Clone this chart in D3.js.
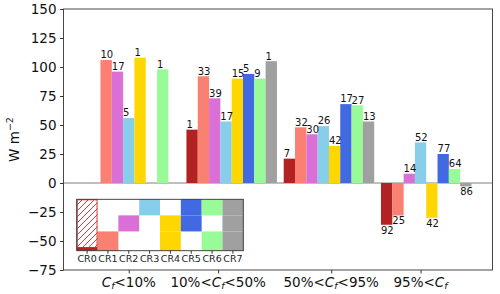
<!DOCTYPE html>
<html>
<head>
<meta charset="utf-8">
<script src="https://cdn.jsdelivr.net/npm/d3@7"></script>
<style>
  body { margin: 0; background: #fff; }
  text { font-family: "DejaVu Sans", sans-serif; }
</style>
</head>
<body>
<svg id="chart"></svg>
<script>
// cloud regimes and their colours
const regimes = ["CR0", "CR1", "CR2", "CR3", "CR4", "CR5", "CR6", "CR7"];
const colors = ["#b22222", "#fa8072", "#da70d6", "#87ceeb", "#ffd700", "#4169e1", "#98fb98", "#a0a0a0"];

// group labels: text before and after the italic C_f
const groupLabels = [["", "<10%"], ["10%<", "<50%"], ["50%<", "<95%"], ["95%<", ""]];
// tick positions in bar-width units
const tickPositions = [3.5, 11.4, 21.4, 29.3];

// values per cloud-fraction group (W m-2), null = no bar
const lt10 = [null, 106, 96, 56, 108, null, 98, null];
const lt10Counts = [null, 10, 17, 5, 1, null, 1, null];
const from10to50 = [46, 92, 73, 53, 90, 94, 90, 105];
const from10to50Counts = [1, 33, 39, 17, 15, 5, 9, 1];
const from50to95 = [21, 48, 42, 49, 32, 68, 67, 53];
const from50to95Counts = [7, 32, 30, 26, 42, 17, 27, 13];
const gt95 = [-36, -28, 8, 35, -30, 25, 12, -3];
const gt95Counts = [92, 25, 14, 52, 42, 77, 64, 86];

const yTicks = [-75, -50, -25, 0, 25, 50, 75, 100, 125, 150];

// inset: which layer (high, mid, low) each regime covers
const layerHigh = [1, 0, 0, 1, 0, 1, 1, 1];
const layerMid = [1, 0, 1, 0, 1, 1, 0, 1];
const layerLow = [1, 1, 0, 0, 1, 0, 1, 1];

const groups = [
    { values: lt10, counts: lt10Counts },
    { values: from10to50, counts: from10to50Counts },
    { values: from50to95, counts: from50to95Counts },
    { values: gt95, counts: gt95Counts }
];
const groupSpacing = 8.6;

const width = 500, height = 294;
const margin = { left: 63.5, right: 7.5, top: 9, bottom: 24 };
const svg = d3.select("#chart").attr("width", width).attr("height", height);

const x = d3.scaleLinear().domain([-2.27, 35.66]).range([margin.left, width - margin.right]);
const y = d3.scaleLinear().domain([-75, 150]).range([height - margin.bottom, margin.top]);
const bw = x(1) - x(0);

const bars = [];
groups.forEach((g, gi) => {
    g.values.forEach((v, k) => {
        if (v === null) return;
        bars.push({ x0: gi * groupSpacing + k, value: v, count: g.counts[k], color: colors[k] });
    });
});

// zero line
svg.append("line")
    .attr("x1", margin.left).attr("x2", width - margin.right)
    .attr("y1", y(0)).attr("y2", y(0))
    .attr("stroke", "#808080").attr("stroke-width", 1);

svg.append("g").selectAll("rect").data(bars).enter().append("rect")
    .attr("x", d => x(d.x0))
    .attr("width", bw)
    .attr("y", d => y(Math.max(0, d.value)))
    .attr("height", d => Math.abs(y(d.value) - y(0)))
    .attr("fill", d => d.color);

svg.append("g").selectAll("text").data(bars).enter().append("text")
    .attr("x", d => x(d.x0))
    .attr("y", d => d.value >= 0 ? y(d.value) - 1.7 : y(d.value) + 9)
    .attr("font-size", 10)
    .attr("fill", "#111")
    .text(d => d.count);

// axes
const yAxis = svg.append("g")
    .attr("transform", `translate(${margin.left},0)`)
    .call(d3.axisLeft(y).tickValues(yTicks).tickSize(3.5).tickPadding(3.5).tickFormat(d => d < 0 ? "\u2212" + Math.abs(d) : d));
yAxis.select(".domain").remove();
yAxis.selectAll("text").attr("font-size", 13.5).attr("fill", "#111").attr("font-family", "DejaVu Sans");
yAxis.selectAll("line").attr("stroke", "#333");

const xAxis = svg.append("g")
    .attr("transform", `translate(0,${height - margin.bottom})`)
    .call(d3.axisBottom(x).tickValues(tickPositions).tickSize(3.5).tickFormat(""));
xAxis.select(".domain").remove();
xAxis.selectAll("line").attr("stroke", "#333");

const xLabels = svg.append("g").selectAll("text").data(groupLabels).enter().append("text")
    .attr("x", (d, i) => x(tickPositions[i]))
    .attr("y", height - margin.bottom + 16.5)
    .attr("text-anchor", "middle")
    .attr("font-size", 13.5)
    .attr("fill", "#111");
xLabels.append("tspan").text(d => d[0]);
xLabels.append("tspan").attr("font-style", "italic").text("C");
xLabels.append("tspan").attr("font-style", "italic").attr("font-size", 9.5).attr("dy", 2.5).text("f");
xLabels.append("tspan").attr("dy", -2.5).text(d => d[1]);

// frame
svg.append("rect")
    .attr("x", margin.left).attr("y", margin.top)
    .attr("width", width - margin.left - margin.right)
    .attr("height", height - margin.top - margin.bottom)
    .attr("fill", "none").attr("stroke", "#333").attr("stroke-width", 0.9);

// y label
const yLab = svg.append("text")
    .attr("transform", `translate(19,${(margin.top + height - margin.bottom) / 2}) rotate(-90)`)
    .attr("text-anchor", "middle")
    .attr("font-size", 13.5)
    .attr("fill", "#111");
yLab.append("tspan").text("W m");
yLab.append("tspan").attr("font-size", 9.5).attr("dy", -6).text("\u22122");

// inset with the cloud layer code of each regime
const inset = { left: 76.7, top: 199.3, width: 166.6, height: 51.4 };
const ix = d3.scaleBand().domain(regimes).range([inset.left, inset.left + inset.width]);
const iy = d3.scaleLinear().domain([-0.2, 3]).range([inset.top + inset.height, inset.top]);

const ig = svg.append("g");
ig.append("rect")
    .attr("x", inset.left).attr("y", inset.top)
    .attr("width", inset.width).attr("height", inset.height)
    .attr("fill", "#fff");

const cells = [];
regimes.forEach((r, k) => {
    if (k === 0) return;
    [layerLow, layerMid, layerHigh].forEach((layer, row) => {
        if (layer[k]) cells.push({ regime: r, row: row, color: colors[k] });
    });
});
// low row reaches down to the inset bottom
ig.selectAll(".cell").data(cells).enter().append("rect")
    .attr("x", d => ix(d.regime))
    .attr("width", ix.bandwidth())
    .attr("y", d => iy(d.row + 1))
    .attr("height", d => iy(d.row === 0 ? -0.2 : d.row) - iy(d.row + 1))
    .attr("fill", d => d.color);

// CR0: hatched over all layers plus a solid strip below zero
const hx0 = ix("CR0"), hx1 = ix("CR0") + ix.bandwidth();
const hy0 = iy(3), hy1 = iy(0);
svg.append("clipPath").attr("id", "hatchClip")
    .append("rect").attr("x", hx0).attr("y", hy0)
    .attr("width", hx1 - hx0).attr("height", hy1 - hy0);
const step = 6;
const offsets = d3.range(0, (hx1 - hx0) + (hy1 - hy0) + step, step);
ig.append("g").attr("clip-path", "url(#hatchClip)")
    .selectAll("line").data(offsets).enter().append("line")
    .attr("x1", d => hx0 + d - (hy1 - hy0)).attr("y1", hy1)
    .attr("x2", d => hx0 + d).attr("y2", hy0)
    .attr("stroke", "#d23c3c").attr("stroke-width", 1);
ig.append("rect")
    .attr("x", hx0 + 0.5).attr("width", ix.bandwidth() - 1)
    .attr("y", hy0 + 0.5).attr("height", hy1 - hy0 - 0.5)
    .attr("fill", "none").attr("stroke", "#c84040").attr("stroke-width", 1);
ig.append("rect")
    .attr("x", hx0).attr("width", ix.bandwidth())
    .attr("y", iy(0)).attr("height", iy(-0.2) - iy(0))
    .attr("fill", colors[0]);

ig.append("rect")
    .attr("x", inset.left).attr("y", inset.top)
    .attr("width", inset.width).attr("height", inset.height)
    .attr("fill", "none").attr("stroke", "#333").attr("stroke-width", 0.9);

const insetAxis = ig.append("g")
    .attr("transform", `translate(0,${inset.top + inset.height})`)
    .call(d3.axisBottom(ix).tickSize(3).tickPadding(2));
insetAxis.select(".domain").remove();
insetAxis.selectAll("line").attr("stroke", "#333");
insetAxis.selectAll("text").attr("font-size", 9.5).attr("fill", "#222").attr("font-family", "DejaVu Sans");
</script>
</body>
</html>
